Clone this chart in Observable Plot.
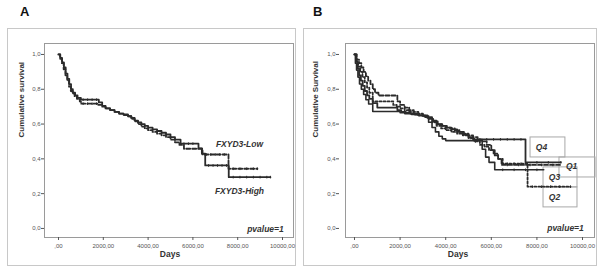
<!DOCTYPE html>
<html>
<head>
<meta charset="utf-8">
<script src="https://cdn.jsdelivr.net/npm/d3@7"></script>
<script src="https://cdn.jsdelivr.net/npm/@observablehq/plot@0.6"></script>
<style>
  html, body { margin: 0; padding: 0; background: #fff; }
  #fig { position: relative; width: 601px; height: 269px; background: #fff; overflow: hidden;
         font-family: "Liberation Sans", Arial, sans-serif; }
  .box { position: absolute; border: 1px solid #c8c8c8; box-sizing: border-box; }
  .tag { position: absolute; font-weight: bold; font-size: 13px; line-height: 13px; color: #111; }
  .pan { position: absolute; top: 0; }
</style>
</head>
<body>
<div id="fig">
  <div class="box" style="left:7px;top:28px;width:289px;height:238px"></div>
  <div class="box" style="left:303px;top:28px;width:294px;height:238px"></div>
  <div class="tag" style="left:20px;top:5px">A</div>
  <div class="tag" style="left:313px;top:5px">B</div>
  <div class="pan" id="panelA" style="left:0px"></div>
  <div class="pan" id="panelB" style="left:300px"></div>
</div>
<script>
// Y axis ticks (cumulative survival) and X axis ticks (days)
const yTicks = [0, 0.2, 0.4, 0.6, 0.8, 1.0];
const xTicks = [0, 2000, 4000, 6000, 8000, 10000];

// Panel A: Kaplan–Meier steps (time in days, survival)
const highT = [0,80,160,240,320,400,480,560,640,740,850,1000,1800,1950,2100,2300,2500,2700,2900,3100,3250,3400,3550,3700,3850,4000,4200,4400,4600,4800,5000,5200,5450,6250,6400,6550,7600,9460];
const highS = [1,0.98,0.955,0.925,0.89,0.86,0.83,0.80,0.78,0.765,0.75,0.74,0.725,0.705,0.69,0.68,0.67,0.66,0.655,0.645,0.635,0.62,0.61,0.60,0.59,0.58,0.57,0.56,0.55,0.54,0.525,0.51,0.487,0.46,0.43,0.362,0.295,0.295];
const lowT  = [0,70,150,230,310,390,470,550,630,720,820,950,1000,1780,1950,2100,2300,2500,2700,2900,3100,3250,3400,3550,3700,3850,4000,4200,4400,4600,4800,5000,5200,5400,5600,6430,7590,8880];
const lowS  = [1,0.975,0.95,0.915,0.88,0.85,0.815,0.79,0.775,0.76,0.745,0.73,0.717,0.71,0.70,0.69,0.68,0.67,0.66,0.652,0.645,0.63,0.615,0.60,0.585,0.575,0.565,0.555,0.545,0.535,0.525,0.51,0.495,0.48,0.458,0.425,0.343,0.343];
const highCensor = [1100,1300,1500,1700,5600,5800,6000,6700,6900,7100,7300,7500,7800,8100,8400,8700,9000,9300,9460];
const lowCensor  = [1100,1300,1500,1700,6600,6800,7000,7200,7400,7800,8100,8400,8700,8880];

// Panel B: quartile groups
const q4T = [0,60,130,200,280,360,450,550,650,800,1000,1880,2050,2250,2450,2650,2850,3050,3250,3450,3650,3850,4050,4250,4500,4750,5000,5200,7500,9050];
const q4S = [1,0.96,0.92,0.88,0.85,0.82,0.79,0.765,0.745,0.72,0.695,0.68,0.67,0.665,0.66,0.655,0.65,0.645,0.63,0.615,0.60,0.59,0.58,0.57,0.555,0.54,0.525,0.512,0.38,0.38];
const q3T = [0,40,90,150,220,300,400,500,620,800,2000,2200,2500,2800,3100,3250,3400,3550,3700,3850,4000,5600,5750,5900,6150,8300];
const q3S = [1,0.95,0.91,0.87,0.83,0.80,0.77,0.74,0.715,0.672,0.665,0.66,0.655,0.65,0.64,0.61,0.58,0.555,0.53,0.515,0.505,0.455,0.41,0.38,0.337,0.337];
const q1T = [0,100,200,300,400,500,600,700,800,900,1050,1880,2000,2200,2400,2600,2800,3000,3200,3400,3600,3800,4000,4200,4400,4600,4800,5000,5200,5400,5600,5800,6000,6150,6300,6450,9100];
const q1S = [1,0.97,0.95,0.925,0.90,0.875,0.85,0.83,0.80,0.78,0.764,0.73,0.71,0.695,0.68,0.67,0.66,0.65,0.64,0.62,0.60,0.59,0.58,0.575,0.565,0.555,0.545,0.535,0.525,0.51,0.50,0.48,0.45,0.42,0.40,0.365,0.365];
const q2T = [0,80,160,250,350,450,550,650,800,1700,1850,2000,2200,2400,2600,2800,3000,3200,3400,3600,3800,4000,4250,4500,4750,5000,5250,5500,5700,5900,6100,6300,6500,7590,9470];
const q2S = [1,0.96,0.93,0.90,0.87,0.84,0.81,0.78,0.73,0.71,0.70,0.69,0.68,0.67,0.66,0.65,0.645,0.635,0.61,0.59,0.575,0.565,0.555,0.545,0.535,0.52,0.50,0.48,0.47,0.45,0.43,0.40,0.372,0.24,0.24];
const q4Censor = [5500,5800,6100,6400,6700,7000,7300,8000,8500,9050];
const q3Censor = [6500,7000,7500,8000];
const q1Censor = [6700,7200,7700,8200,8700];
const q2Censor = [5100,5200,5300,6700,7000,7300,7800,8200,8600,9000,9470];

// Group labels (days, survival) and their outline boxes
const labelsA = [
  {text: "FXYD3-Low",  t: 8080, s: 0.483},
  {text: "FXYD3-High", t: 8080, s: 0.213},
  {text: "pvalue=1",   t: 9240, s: -0.006}
];
const labelsB = [
  {text: "Q4", t: 8200, s: 0.466},
  {text: "Q1", t: 9520, s: 0.356},
  {text: "Q3", t: 8770, s: 0.293},
  {text: "Q2", t: 8770, s: 0.178},
  {text: "pvalue=1", t: 9254, s: 0.0}
];
const boxesB = [
  {t1: 7720, t2: 9250,  s1: 0.408, s2: 0.523},
  {t1: 8990, t2: 10570, s1: 0.293, s2: 0.408},
  {t1: 8290, t2: 9780,  s1: 0.236, s2: 0.351},
  {t1: 8290, t2: 9780,  s1: 0.121, s2: 0.236}
];

const steps = (T, S) => T.map((t, i) => ({t, s: S[i]}));
const survAt = (T, S, t) => { let s = S[0]; for (let i = 0; i < T.length; i++) if (T[i] <= t) s = S[i]; return s; };
const censored = (T, S, C) => C.map(t => ({t, s: survAt(T, S, t)}));

// Short vertical tick used for censored observations
const censorTick = {
  draw(context, size) {
    const r = Math.sqrt(size / Math.PI);
    context.moveTo(0, -r);
    context.lineTo(0, r);
  }
};

const ink = "#2b2b2b";
const fmtY = d => d.toFixed(1).replace(".", ",");
const fmtX = d => d === 0 ? ",00" : d.toFixed(2).replace(".", ",");

function panel({groups, labels, boxes = [], xDomain, width, marginLeft, yLabel, yLabelDx, daysDx, yAxisDx}) {
  const marks = [
    Plot.frame({stroke: "#9a9a9a", strokeWidth: 1}),
    Plot.axisY(yTicks, {tickFormat: fmtY, tickSize: 3, tickPadding: 1, fontSize: 6, color: "#555", dx: yAxisDx, label: null}),
    Plot.axisX(xTicks, {tickFormat: fmtX, tickSize: 3, tickPadding: 3, fontSize: 6, color: "#555", label: null}),
    Plot.text([yLabel], {frameAnchor: "left", dx: yLabelDx, dy: -3, rotate: -90, fontWeight: "bold", fontSize: 8, fill: "#333"}),
    Plot.text(["Days"], {frameAnchor: "bottom", dx: daysDx, dy: 19, fontWeight: "bold", fontSize: 8.5, fill: "#333"}),
    Plot.rect(boxes, {x1: "t1", x2: "t2", y1: "s1", y2: "s2", fill: "none", stroke: "#a8a8a8", strokeWidth: 1})
  ];
  for (const g of groups) {
    marks.push(Plot.line(steps(g.T, g.S), {x: "t", y: "s", curve: "step-after", stroke: ink,
      strokeWidth: g.width || 1.8, strokeDasharray: g.dash || null}));
    marks.push(Plot.dot(censored(g.T, g.S, g.C), {x: "t", y: "s", symbol: censorTick, r: 1.3,
      stroke: ink, strokeWidth: 1, fill: "none"}));
  }
  marks.push(Plot.text(labels, {x: "t", y: "s", text: "text", fontWeight: "bold", fontStyle: "italic",
    fontSize: 8.5, fill: "#333"}));
  return Plot.plot({
    width, height: 269,
    marginLeft, marginRight: 7, marginTop: 43, marginBottom: 32,
    style: {fontFamily: "'Liberation Sans', Arial, sans-serif", background: "transparent", overflow: "visible"},
    x: {domain: xDomain},
    y: {domain: [-0.052, 1.063]},
    marks
  });
}

document.getElementById("panelA").appendChild(panel({
  groups: [
    {T: highT, S: highS, C: highCensor},
    {T: lowT, S: lowS, C: lowCensor, dash: "4,2"}
  ],
  labels: labelsA,
  xDomain: [-625, 10491],
  width: 300, marginLeft: 44,
  yLabel: "Cumulative survival", yLabelDx: -23, daysDx: 1, yAxisDx: 0
}));

document.getElementById("panelB").appendChild(panel({
  groups: [
    {T: q4T, S: q4S, C: q4Censor},
    {T: q3T, S: q3S, C: q3Censor, width: 1.6},
    {T: q1T, S: q1S, C: q1Censor, dash: "4,2"},
    {T: q2T, S: q2S, C: q2Censor, dash: "2,2"}
  ],
  labels: labelsB,
  boxes: boxesB,
  xDomain: [-395, 10526],
  width: 301, marginLeft: 45,
  yLabel: "Cumulative Survival", yLabelDx: -30, daysDx: -12, yAxisDx: -6
}));
</script>
</body>
</html>
